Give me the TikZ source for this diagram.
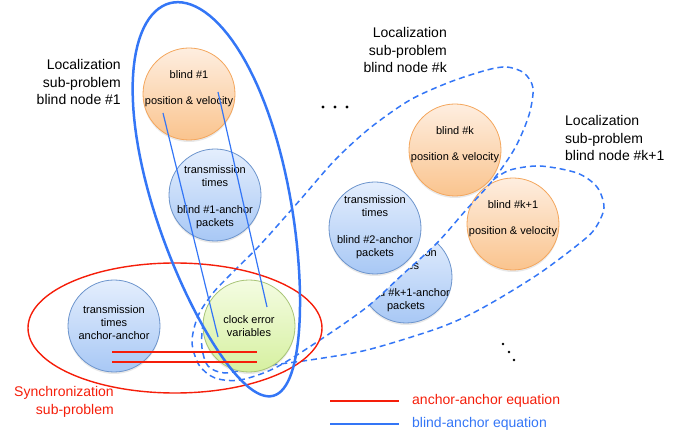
\documentclass[tikz,border=0pt]{standalone}
\usepackage{fontspec}
\setmainfont{Liberation Sans}
\usetikzlibrary{shadows}
\definecolor{bl}{RGB}{52,118,246}
\definecolor{rd}{RGB}{245,30,10}
\definecolor{orT}{RGB}{254,238,224}
\definecolor{orB}{RGB}{250,196,142}
\definecolor{orD}{RGB}{244,166,92}
\definecolor{buT}{RGB}{228,238,253}
\definecolor{buB}{RGB}{168,200,245}
\definecolor{buD}{RGB}{108,148,204}
\definecolor{grT}{RGB}{244,252,226}
\definecolor{grB}{RGB}{214,240,160}
\definecolor{grD}{RGB}{168,196,118}
\begin{document}
\begin{tikzpicture}[x=1pt,y=-1pt,
 disc/.style={circle, minimum size=92pt, inner sep=0pt, line width=0.8pt,
   drop shadow={shadow xshift=0pt, shadow yshift=-2pt, opacity=0.18}},
 orangedisc/.style={disc, draw=orD, top color=orT, bottom color=orB},
 bluedisc/.style={disc, draw=buD, top color=buT, bottom color=buB},
 greendisc/.style={disc, draw=grD, top color=grT, bottom color=grB},
 ctext/.style={font=\fontsize{11}{13}\selectfont, align=center, inner sep=0pt},
 lbl/.style={font=\fontsize{14}{17.5}\selectfont, inner sep=0pt},
 dashedline/.style={draw=bl, line width=1.5pt, dash pattern=on 6pt off 4pt, line cap=butt},
 thickblue/.style={draw=bl, line width=2.5pt},
 redring/.style={draw=rd, line width=1.4pt},
 blueeq/.style={draw=bl, line width=1.2pt},
 redeq/.style={draw=rd, line width=1.4pt},
 dotmark/.style={fill=black}
]
\useasboundingbox (0,0) rectangle (691,438);

% circles (except clock error)
\node[orangedisc] (b1) at (189,94) {};
\node[ctext, yshift=5pt] (b1t) at (b1.center) {blind \#1\\[13pt]position \& velocity};

\node[bluedisc] (t1) at (215,195) {};
\node[ctext, yshift=-2pt] (t1t) at (t1.center) {transmission\\times\\[14pt]blind \#1-anchor\\packets};

\node[bluedisc] (aa) at (114,326) {};
\node[ctext, yshift=3.5pt] (aat) at (aa.center) {transmission\\times\\anchor-anchor};

\node[orangedisc] (bk) at (455,150) {};
\node[ctext, yshift=5pt] (bkt) at (bk.center) {blind \#k\\[13pt]position \& velocity};

\node[orangedisc] (bk1) at (513,224) {};
\node[ctext, yshift=5pt] (bk1t) at (bk1.center) {blind \#k+1\\[13pt]position \& velocity};

\begin{scope}[even odd rule]
\clip (0,0) rectangle (691,438)
  plot[smooth cycle] coordinates {(487,70) (507,67) (524,73) (533,88) (529,115) (515,148) (493,180)
   (466,210) (437,243) (402,275) (367,307) (320,340) (275,368) (240,380)
   (215,378) (199,365) (192,342) (198,316) (213,293)
   (233,272) (260,245) (300,200) (335,160) (370,128) (410,100) (450,82)};
\node[bluedisc] (tk1) at (406,277) {};
\node[ctext, yshift=-3pt] (tk1t) at (tk1.center) {transmission\\times\\[14pt]blind \#k+1-anchor\\packets};
\end{scope}

\node[bluedisc] (t2) at (375,228) {};
\node[ctext, yshift=1pt] (t2t) at (t2.center) {transmission\\times\\[14pt]blind \#2-anchor\\packets};

% dashed sub-problem boundaries
\draw[dashedline] plot[smooth cycle] coordinates {(487,70) (507,67) (524,73) (533,88) (529,115) (515,148) (493,180)
   (466,210) (437,243) (402,275) (367,307) (320,340) (275,368) (240,380)
   (215,378) (199,365) (192,342) (198,316) (213,293)
   (233,272) (260,245) (300,200) (335,160) (370,128) (410,100) (450,82)};
\draw[dashedline] plot[smooth] coordinates {(493,180) (510,170) (540,166) (577,173) (597,187) (604,208)
   (594,230) (575,247) (540,273) (500,298) (467,316) (433,330) (367,350) (310,360)
   (257,367) (225,373) (208,366) (202,348) (203,325) (212,300) (240,290)};

% clock error circle
\node[greendisc] (ce) at (249,326) {};
\node[ctext] (cet) at (ce.center) {clock error\\variables};

% synchronization ellipse
\draw[redring] (175,328) ellipse [x radius=147, y radius=65];

% localization sub-problem #1 (egg shape)
\draw[thickblue] plot[domain=0:360, samples=121, variable=\t]
  ({221.5 + 51.72*cos(\t) + 0.9671*(68-11*cos(\t))*sin(\t)},
   {199.5 + 196.3*cos(\t) - 0.2548*(68-11*cos(\t))*sin(\t)}) -- cycle;

% equations
\coordinate (e1a) at (163,113);
\coordinate (e1b) at (218,337);
\coordinate (e2a) at (218,92);
\coordinate (e2b) at (267,307);
\draw[blueeq] (e1a) -- (e1b);
\draw[blueeq] (e2a) -- (e2b);
\coordinate (r1a) at (112,352);
\coordinate (r1b) at (257,352);
\coordinate (r2a) at (112,362);
\coordinate (r2b) at (257,362);
\draw[redeq] (r1a) -- (r1b);
\draw[redeq] (r2a) -- (r2b);

% labels
\node[lbl, align=right, anchor=east] (l1) at (121,82) {Localization\\sub-problem\\blind node \#1};
\node[lbl, align=right, anchor=east] (lk) at (447,50) {Localization\\sub-problem\\blind node \#k};
\node[lbl, align=left, anchor=west] (lk1) at (565,138) {Localization\\sub-problem\\blind node \#k+1};
\node[lbl, align=right, anchor=east, text=rd] (ls) at (114,402) {Synchronization\\sub-problem};

% legend
\coordinate (g1a) at (330,401);
\coordinate (g1b) at (399,401);
\coordinate (g2a) at (330,424);
\coordinate (g2b) at (399,424);
\draw[redeq] (g1a) -- (g1b);
\draw[blueeq, line width=1.4pt] (g2a) -- (g2b);
\node[lbl, anchor=west, text=rd] (g1t) at (412,401) {anchor-anchor equation};
\node[lbl, anchor=west, text=bl] (g2t) at (412,424) {blind-anchor equation};

% ellipsis dots
\fill[dotmark] (323,107) circle (1.6pt);
\fill[dotmark] (335,107) circle (1.6pt);
\fill[dotmark] (347,107) circle (1.6pt);
\fill[dotmark] (503,344) circle (1.3pt);
\fill[dotmark] (509,352) circle (1.3pt);
\fill[dotmark] (514,360) circle (1.3pt);
\end{tikzpicture}
\end{document}
